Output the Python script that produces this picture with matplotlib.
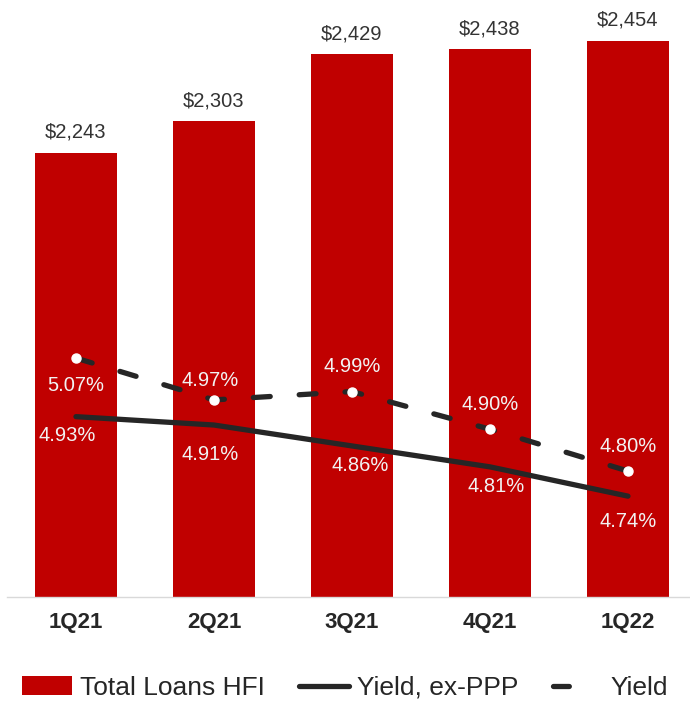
# Total loans HFI bars with yield lines on a second axis
import matplotlib
matplotlib.use("Agg")
import matplotlib.pyplot as plt
from matplotlib.patches import Patch
from matplotlib.lines import Line2D

plt.rcParams["font.family"] = ["Liberation Sans", "DejaVu Sans"]

quarters = ["1Q21", "2Q21", "3Q21", "4Q21", "1Q22"]
loans = [2243, 2303, 2429, 2438, 2454]
yield_all = [5.07, 4.97, 4.99, 4.90, 4.80]
yield_ex_ppp = [4.93, 4.91, 4.86, 4.81, 4.74]

RED = "#C00000"
DARK = "#262626"
LABEL_IN = "#f2f2f2"

# label offsets in pixels (x, y), y positive = up
yield_offsets = [(0, -27), (-4, 19), (0, 25), (0, 25), (0, 25)]
expp_offsets = [(-9, -19), (-4, -29), (8, -20), (6, -20), (0, -25)]

fig = plt.figure(figsize=(6.9, 7.04), dpi=100)
ax = fig.add_axes([0.0101, 0.152, 1.0, 0.8196])
x = list(range(len(quarters)))

ax.bar(x, loans, width=0.59, color=RED, zorder=2)
ax.set_xlim(-0.5, 4.5)
ax.set_ylim(1406.5, 2493.5)
for xi, v in zip(x, loans):
    ax.annotate(f"${v:,}", (xi, v), xytext=(0, 8), textcoords="offset points",
                ha="center", va="bottom", fontsize=14.5, color="#333333")

ax.set_xticks(x)
ax.set_xticklabels(quarters, fontsize=16, fontweight="bold", color=DARK)
ax.tick_params(axis="x", length=0, pad=11)
ax.set_yticks([])
for s in ["top", "left", "right"]:
    ax.spines[s].set_visible(False)
ax.spines["bottom"].set_color("#d9d9d9")
ax.spines["bottom"].set_linewidth(1.0)

ax2 = ax.twinx()
ax2.set_ylim(4.499, 5.878)
ax2.set_yticks([])
for s in ax2.spines.values():
    s.set_visible(False)

ax2.plot(x, yield_ex_ppp, color=DARK, lw=3.8, solid_capstyle="round", zorder=3)
ax2.plot(x, yield_all, color=DARK, lw=3.8, dashes=(3.2, 5.5), dash_capstyle="round",
         marker="o", markersize=6.5, markerfacecolor="white", markeredgecolor="white",
         zorder=4)

for xi, v, (dx, dy) in zip(x, yield_all, yield_offsets):
    ax2.annotate(f"{v:.2f}%", (xi, v), xytext=(dx * 0.72, dy * 0.72),
                 textcoords="offset points", ha="center", va="center",
                 fontsize=14.5, color=LABEL_IN, zorder=5)
for xi, v, (dx, dy) in zip(x, yield_ex_ppp, expp_offsets):
    ax2.annotate(f"{v:.2f}%", (xi, v), xytext=(dx * 0.72, dy * 0.72),
                 textcoords="offset points", ha="center", va="center",
                 fontsize=14.5, color=LABEL_IN, zorder=5)

handles = [
    Patch(facecolor=RED, edgecolor="none"),
    Line2D([], [], color=DARK, lw=3.8, solid_capstyle="round"),
    Line2D([], [], color=DARK, lw=3.8, dashes=(3.0, 10), dash_capstyle="round"),
]
fig.legend(handles, ["Total Loans HFI", "Yield, ex-PPP", "Yield"],
           loc="center", bbox_to_anchor=(0.5, 0.023), ncol=3, frameon=False,
           fontsize=19, handlelength=1.9, handletextpad=0.3, columnspacing=1.3,
           labelcolor=DARK)

fig.savefig("out.png", dpi=100)
